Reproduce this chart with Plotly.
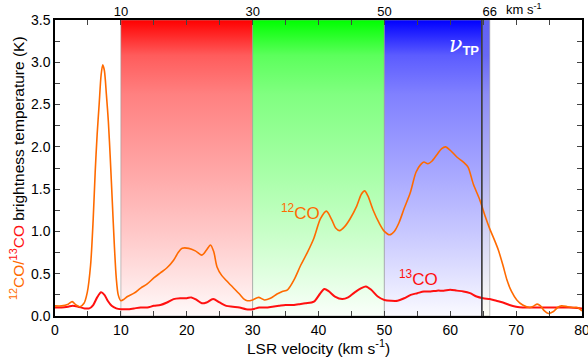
import plotly.graph_objects as go

# ---- data ----
v12 = [0, 1, 2, 2.6, 3.2, 3.8, 4.4, 4.9, 5.4, 5.8, 6.1, 6.4, 6.7, 7.0, 7.25, 7.5, 7.8, 8.1, 8.4, 8.7,
       9.0, 9.3, 9.6, 10.0, 10.5, 11.0, 12.0, 13.0, 14.0, 15.0, 16.0, 17.0, 18.0, 18.7, 19.3, 20.3,
       21.3, 22.3, 23.0, 23.6, 24.1, 24.6, 25.3, 26.0, 27.0, 28.0, 28.7, 29.2, 30.0, 30.9, 31.8, 32.7,
       33.7, 34.5, 35.3, 36.3, 37.3, 38.3, 39.3, 40.3, 41.2, 42.0, 42.6, 43.2, 44.0, 44.8, 45.8, 46.5,
       47.0, 47.5, 48.3, 49.2, 50.0, 50.8, 51.5, 52.2, 53.0, 53.9, 54.8, 55.5, 56.0, 56.6, 57.2, 58.0,
       58.7, 59.3, 60.0, 61.0, 62.0, 62.7, 63.5, 64.5, 65.3, 66.0, 66.7, 67.3, 68.0, 68.6, 69.3, 70.1,
       71.0, 72.1, 72.7, 73.2, 73.7, 74.3, 74.9, 75.6, 76.3, 76.9, 77.8, 78.6, 79.3, 80]
t12 = [0.12, 0.12, 0.14, 0.17, 0.13, 0.11, 0.15, 0.28, 0.60, 1.15, 1.70, 2.15, 2.50, 2.85, 2.97, 2.90,
       2.62, 2.30, 1.85, 1.35, 0.85, 0.45, 0.25, 0.18, 0.20, 0.23, 0.27, 0.33, 0.38, 0.45, 0.51, 0.57,
       0.66, 0.75, 0.80, 0.80, 0.77, 0.72, 0.78, 0.84, 0.76, 0.58, 0.48, 0.42, 0.34, 0.26, 0.20, 0.18,
       0.19, 0.22, 0.19, 0.21, 0.26, 0.29, 0.31, 0.43, 0.60, 0.75, 0.92, 1.15, 1.24, 1.14, 1.04, 1.01,
       1.06, 1.15, 1.30, 1.44, 1.48, 1.42, 1.25, 1.10, 1.00, 0.96, 1.00, 1.10, 1.27, 1.45, 1.70, 1.79,
       1.82, 1.80, 1.83, 1.91, 1.98, 2.00, 1.96, 1.88, 1.82, 1.76, 1.56, 1.37, 1.18, 1.03, 0.90, 0.78,
       0.60, 0.43, 0.29, 0.19, 0.13, 0.10, 0.12, 0.14, 0.12, 0.06, 0.03, 0.05, 0.10, 0.12, 0.11, 0.10,
       0.10, 0.06]

v13 = [0, 1, 2, 2.7, 3.5, 4.5, 5.2, 5.8, 6.4, 7.0, 7.5, 8.0, 8.6, 9.3, 10, 11, 12, 13, 14, 15, 16, 17,
       18, 19, 20, 20.7, 21.5, 22.3, 23.0, 24.0, 25.0, 26.0, 27.0, 28.0, 29.0, 30, 31, 32, 33, 34, 35,
       36, 37, 38, 39.3, 40.2, 40.9, 41.6, 42.5, 43.6, 44.5, 45.5, 46.5, 47.2, 48.0, 49.0, 50.0, 51.0,
       52.0, 53.0, 54.0, 55.0, 56.0, 57.0, 58.0, 59.0, 60.0, 61.0, 62.0, 63.0, 64.0, 65.0, 66.0, 67.0,
       68.0, 69.0, 70.0, 71.0, 72.0, 74, 76, 78, 80]
t13 = [0.10, 0.10, 0.11, 0.12, 0.11, 0.09, 0.09, 0.13, 0.22, 0.28, 0.25, 0.18, 0.12, 0.09, 0.08, 0.08,
       0.09, 0.10, 0.10, 0.12, 0.13, 0.16, 0.20, 0.21, 0.21, 0.22, 0.19, 0.15, 0.16, 0.20, 0.16, 0.12,
       0.11, 0.10, 0.08, 0.08, 0.10, 0.10, 0.11, 0.12, 0.13, 0.13, 0.14, 0.15, 0.17, 0.26, 0.32, 0.29,
       0.23, 0.20, 0.22, 0.28, 0.33, 0.35, 0.31, 0.23, 0.19, 0.18, 0.18, 0.21, 0.25, 0.27, 0.29, 0.29,
       0.30, 0.30, 0.31, 0.30, 0.29, 0.27, 0.23, 0.21, 0.20, 0.18, 0.16, 0.13, 0.11, 0.10, 0.10, 0.10,
       0.10, 0.10, 0.09]

band_edges = [10, 30, 50, 64.8, 66]
band_hues = ["r", "g", "b", "b2"]
v_tp = 64.8
top_ticks = [10, 30, 50, 66]
y_max = 3.5

# fade levels (bottom -> top) of the non-dominant channels
fade_pos = [0, 0.25, 0.5, 0.75, 0.88, 1.0]
fade_val = [250, 205, 165, 128, 92, 0]


def rgb_for(hue, a):
    if hue == "r":
        return f"rgb(255,{a},{a})"
    if hue == "g":
        return f"rgb({a},255,{a})"
    if hue == "b":
        return f"rgb({a},{a},255)"
    a2 = min(255, max(a, 85) + 12)
    return f"rgb({a2},{a2},245)"


fig = go.Figure()

for i, hue in enumerate(band_hues):
    x0, x1 = band_edges[i], band_edges[i + 1]
    cs = [[p, rgb_for(hue, a)] for p, a in zip(fade_pos, fade_val)]
    fig.add_trace(go.Scatter(
        x=[x0, x1, x1, x0, x0], y=[0, 0, y_max, y_max, 0],
        mode="lines", fill="toself",
        line=dict(color="rgba(150,150,150,0.6)", width=1),
        fillgradient=dict(type="vertical", colorscale=cs),
        hoverinfo="skip", showlegend=False))

fig.add_trace(go.Scatter(x=v13, y=t13, mode="lines",
                         line=dict(color="#ff1010", width=2, shape="spline", smoothing=0.8),
                         showlegend=False))
fig.add_trace(go.Scatter(x=v12, y=t12, mode="lines",
                         line=dict(color="#ff6a00", width=1.6, shape="spline", smoothing=0.8),
                         showlegend=False))

fig.add_shape(type="line", x0=v_tp, x1=v_tp, y0=0, y1=y_max, xref="x", yref="y",
              line=dict(color="#333333", width=1.5))

font_family = "Liberation Sans, Arial, sans-serif"

fig.update_layout(
    width=588, height=363,
    margin=dict(l=55, r=6, t=20, b=47),
    plot_bgcolor="white", paper_bgcolor="white",
    font=dict(family=font_family, size=14, color="black"),
    xaxis=dict(range=[0, 80], dtick=10, tick0=0, ticks="inside", ticklen=5, tickwidth=1.2,
               showline=True, linecolor="black", linewidth=1.5, mirror="allticks",
               showgrid=False, zeroline=False, automargin=False, ticklabeloverflow="allow",
               minor=dict(dtick=5, ticks="inside", ticklen=5, tickwidth=1.2, showgrid=False)),
    xaxis2=dict(range=[0, 80], overlaying="x", side="top", tickvals=top_ticks,
                ticktext=[str(t) for t in top_ticks], ticks="", showgrid=False,
                zeroline=False, showline=False, automargin=False, tickfont=dict(size=13)),
    yaxis=dict(range=[0, y_max], dtick=0.5, tick0=0, tickformat=".1f", ticks="inside",
               ticklen=5, tickwidth=1.2, showline=True, linecolor="black", linewidth=1.5,
               mirror="allticks", showgrid=False, zeroline=False, automargin=False,
               minor=dict(dtick=0.25, ticks="inside", ticklen=5, tickwidth=1.2, showgrid=False)),
)

# dummy trace to activate xaxis2
fig.add_trace(go.Scatter(x=[0], y=[0], xaxis="x2", mode="markers",
                         marker=dict(opacity=0), hoverinfo="skip", showlegend=False))

# axis titles
fig.add_annotation(x=0.5, y=0, xref="paper", yref="paper", xanchor="center", yanchor="top",
                   yshift=-19, text="LSR velocity (km s<sup>-1</sup>)", showarrow=False,
                   font=dict(size=15.5))
fig.add_annotation(x=0, y=0.5, xref="paper", yref="paper", xanchor="center", yanchor="middle",
                   xshift=-38, textangle=-90,
                   text="<span style='color:#ff6a00'><sup>12</sup>CO/</span>"
                        "<span style='color:#ff1010'><sup>13</sup>CO</span>"
                        " brightness temperature (K)",
                   showarrow=False, font=dict(size=15.5))

fig.add_annotation(x=68.2, y=1.0, xref="x", yref="paper", yanchor="bottom", xanchor="left",
                   text="km s<sup>-1</sup>", showarrow=False, font=dict(size=13), yshift=1)
fig.add_annotation(x=37.3, y=1.23, xref="x", yref="y", text="<sup>12</sup>CO", showarrow=False,
                   font=dict(size=17, color="#ff6a00"))
fig.add_annotation(x=55.2, y=0.45, xref="x", yref="y", text="<sup>13</sup>CO", showarrow=False,
                   font=dict(size=17, color="#ff1010"))
fig.add_annotation(x=64.6, y=3.2, xref="x", yref="y", xanchor="right",
                   text="<i><span style='font-family:DejaVu Serif, serif;font-size:22px'>ν</span></i>"
                        "<sub><span style='font-size:13px'><b>TP</b></span></sub>",
                   showarrow=False, font=dict(size=14, color="white"))

fig.write_html("out.html", config={"displayModeBar": False},
               post_script="document.body.style.margin='0';")
